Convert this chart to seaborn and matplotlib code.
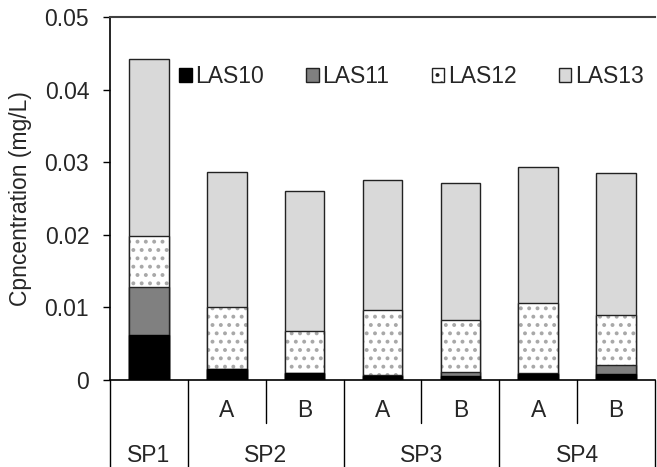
import numpy as np
import pandas as pd
import matplotlib
matplotlib.use("Agg")
import matplotlib.pyplot as plt
from matplotlib.patches import Patch
import seaborn as sns

# bar labels (group + sub sample)
groups  = ["SP1", "SP2", "SP2", "SP3", "SP3", "SP4", "SP4"]
subs    = ["", "A", "B", "A", "B", "A", "B"]
samples = ["SP1", "SP2 A", "SP2 B", "SP3 A", "SP3 B", "SP4 A", "SP4 B"]

# concentrations (mg/L)
las10 = [0.0062, 0.0015, 0.0010, 0.0005, 0.0005, 0.0008, 0.0008]
las11 = [0.0066, 0.0000, 0.0000, 0.0002, 0.0006, 0.0002, 0.0013]
las12 = [0.0070, 0.0086, 0.0057, 0.0089, 0.0071, 0.0096, 0.0069]
las13 = [0.0244, 0.0186, 0.0194, 0.0179, 0.0190, 0.0188, 0.0195]

series = ["LAS10", "LAS11", "LAS12", "LAS13"]
yticks = [0, 0.01, 0.02, 0.03, 0.04, 0.05]
ytick_labels = ["0", "0.01", "0.02", "0.03", "0.04", "0.05"]

sns.set_style("white")
plt.rcParams["font.family"] = ["Liberation Sans", "DejaVu Sans"]
plt.rcParams["hatch.linewidth"] = 1.6
FS = 16.5

df = pd.DataFrame({"sample": samples, "LAS10": las10, "LAS11": las11,
                   "LAS12": las12, "LAS13": las13})
cum = df[series].cumsum(axis=1)

fig = plt.figure(figsize=(6.57, 4.67), dpi=100)
ax = fig.add_axes([110 / 657, 1 - 380 / 467, 545 / 657, 363 / 467])

W = 0.51
EDGE = "#222222"
LW = 1.0

# draw cumulative layers back to front
sns.barplot(x=df["sample"], y=cum["LAS13"], color="#d9d9d9", edgecolor=EDGE,
            linewidth=LW, width=W, ax=ax)
sns.barplot(x=df["sample"], y=cum["LAS12"], color="white", edgecolor="#a8a8a8",
            linewidth=0, hatch="..", width=W, ax=ax)
sns.barplot(x=df["sample"], y=cum["LAS12"], fill=False, edgecolor=EDGE,
            linewidth=LW, width=W, ax=ax)
sns.barplot(x=df["sample"], y=cum["LAS11"], color="#808080", edgecolor=EDGE,
            linewidth=LW, width=W, ax=ax)
sns.barplot(x=df["sample"], y=cum["LAS10"], color="black", edgecolor="black",
            linewidth=LW, width=W, ax=ax)

ax.set_xlim(-0.5, len(samples) - 0.5)
ax.set_ylim(0, 0.05)
ax.set_yticks(yticks)
ax.set_yticklabels(ytick_labels, fontsize=FS)
ax.set_xticks([])
ax.set_xlabel("")
ax.set_ylabel("Cpncentration (mg/L)", fontsize=FS)
ax.yaxis.set_label_coords(-0.143, 0.5)
ax.tick_params(axis="y", which="major", left=True, length=5, width=1,
               direction="out", pad=10, color="black")

for s in ["left", "bottom"]:
    ax.spines[s].set_color("black")
    ax.spines[s].set_linewidth(1.2)
ax.spines["top"].set_color("#404040")
ax.spines["top"].set_linewidth(1.5)
ax.spines["right"].set_visible(False)

# two-level category axis
tr = ax.get_xaxis_transform()
pos = np.arange(len(samples))
for i in range(len(samples) + 1):
    x = i - 0.5
    if 0 < i < len(samples) and groups[i] == groups[i - 1]:
        ax.plot([x, x], [0, -0.118], color="black", lw=1, transform=tr, clip_on=False)
    else:
        ax.plot([x, x], [0, -0.26], color="black", lw=1, transform=tr, clip_on=False)

for p, s in zip(pos, subs):
    if s:
        ax.text(p, -0.083, s, transform=tr, ha="center", va="center", fontsize=FS)

for g in dict.fromkeys(groups):
    idx = [i for i, gg in enumerate(groups) if gg == g]
    ax.text(np.mean(idx), -0.207, g, transform=tr, ha="center", va="center", fontsize=FS)

handles = [Patch(facecolor="black", edgecolor="black"),
           Patch(facecolor="#808080", edgecolor=EDGE),
           Patch(facecolor="white", edgecolor=EDGE, hatch=".."),
           Patch(facecolor="#d9d9d9", edgecolor=EDGE)]
ax.legend(handles, series, loc="center", bbox_to_anchor=(0.553, 0.835), ncol=4,
          frameon=False, fontsize=FS, handlelength=0.55, handleheight=0.55,
          handletextpad=0.15, columnspacing=1.85, borderpad=0)

fig.savefig("out.png", dpi=100)
